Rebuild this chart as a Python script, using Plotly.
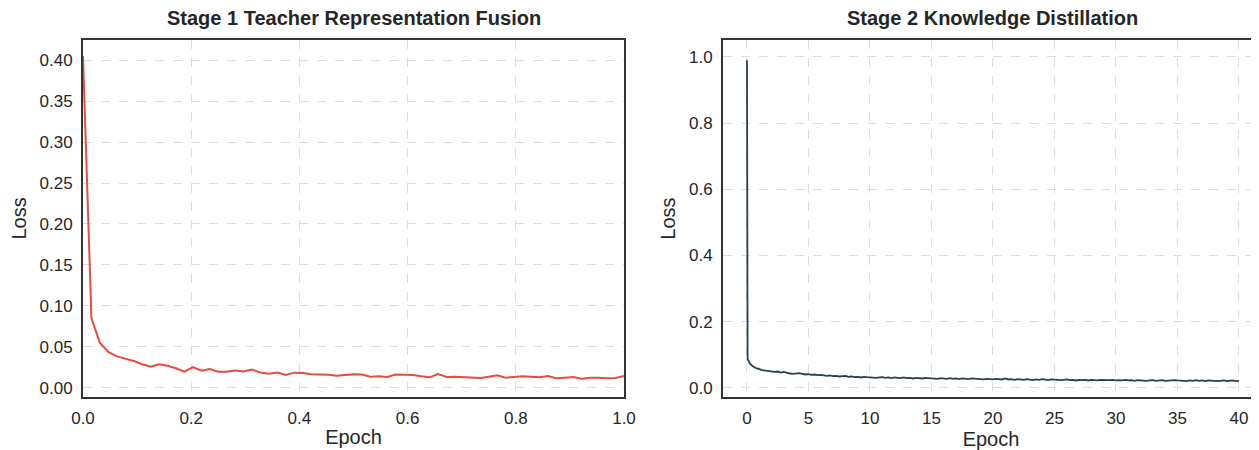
"""
Two-stage training loss curves (teacher fusion + knowledge distillation),
rebuilt with plotly and written to out.html.
"""

import numpy as np
import plotly.graph_objects as go

# stage 1: loss per step, steps spread evenly over one epoch
stage1_loss = [
    0.405, 0.085, 0.055, 0.044, 0.0385, 0.0356, 0.033, 0.029, 0.026, 0.029,
    0.027, 0.024, 0.020, 0.0255, 0.021, 0.023, 0.0198, 0.0198, 0.0214, 0.0202,
    0.0224, 0.0188, 0.0175, 0.0188, 0.016, 0.0187, 0.0184, 0.0168, 0.0167, 0.016,
    0.015, 0.016, 0.0168, 0.0165, 0.0138, 0.0142, 0.0134, 0.0163, 0.016, 0.0157,
    0.0142, 0.013, 0.0171, 0.0134, 0.0138, 0.0134, 0.0134, 0.0122, 0.0138, 0.0154,
    0.0126, 0.0138, 0.0142, 0.0138, 0.013, 0.0146, 0.0118, 0.0126, 0.0134, 0.0114,
    0.0126, 0.0126, 0.0118, 0.0122, 0.0146,
]
stage1_epoch = np.linspace(0, 1, len(stage1_loss))

# stage 2: first two steps, then one reading every quarter epoch up to 40
stage2_head_epoch = [0.0, 0.05]
stage2_head_loss = [0.99, 0.087]
stage2_loss = [
    # 0.25 .. 10
    0.073, 0.064, 0.059, 0.055, 0.053, 0.052, 0.050, 0.050, 0.048, 0.049,
    0.046, 0.048, 0.045, 0.043, 0.042, 0.043, 0.044, 0.042, 0.040, 0.041,
    0.039, 0.040, 0.038, 0.039, 0.037, 0.036, 0.037, 0.035, 0.036, 0.034,
    0.035, 0.036, 0.033, 0.034, 0.032, 0.033, 0.031, 0.033, 0.032, 0.031,
    # 10.25 .. 20
    0.032, 0.030, 0.031, 0.032, 0.030, 0.031, 0.029, 0.031, 0.030, 0.029,
    0.031, 0.029, 0.030, 0.028, 0.030, 0.029, 0.028, 0.030, 0.029, 0.028,
    0.029, 0.027, 0.029, 0.028, 0.027, 0.029, 0.027, 0.028, 0.026, 0.028,
    0.027, 0.026, 0.028, 0.027, 0.026, 0.027, 0.025, 0.027, 0.026, 0.025,
    # 20.25 .. 30
    0.027, 0.026, 0.025, 0.028, 0.025, 0.026, 0.024, 0.026, 0.025, 0.024,
    0.026, 0.025, 0.023, 0.025, 0.024, 0.026, 0.024, 0.023, 0.025, 0.024,
    0.025, 0.023, 0.024, 0.025, 0.023, 0.024, 0.022, 0.024, 0.023, 0.024,
    0.022, 0.024, 0.023, 0.022, 0.024, 0.023, 0.022, 0.023, 0.024, 0.022,
    # 30.25 .. 40
    0.023, 0.022, 0.024, 0.022, 0.023, 0.021, 0.023, 0.022, 0.023, 0.021,
    0.022, 0.023, 0.021, 0.022, 0.023, 0.021, 0.022, 0.021, 0.023, 0.022,
    0.021, 0.022, 0.020, 0.022, 0.021, 0.023, 0.021, 0.022, 0.020, 0.022,
    0.021, 0.022, 0.020, 0.021, 0.022, 0.020, 0.021, 0.022, 0.020, 0.021,
]
stage2_epoch = stage2_head_epoch + list(np.arange(1, len(stage2_loss) + 1) * 0.25)
stage2_loss = stage2_head_loss + stage2_loss

titles = ["Stage 1 Teacher Representation Fusion", "Stage 2 Knowledge Distillation"]

FONT = "Liberation Sans, Arial, sans-serif"
TEXT = "#262626"
GRID = "#dddddd"
EDGE = "#333333"

# the page body keeps its default 8px margin, so the figure is laid out
# in page pixels minus that offset
W, H, OFF = 1251, 442, 8


def px_x(p):
    return (p - OFF) / W


def px_y(p):
    return 1 - (p - OFF) / H


fig = go.Figure()
fig.add_trace(go.Scatter(x=stage1_epoch, y=stage1_loss, mode="lines",
                         line=dict(color="#e74c3c", width=2),
                         xaxis="x", yaxis="y", showlegend=False))
fig.add_trace(go.Scatter(x=stage2_epoch, y=stage2_loss, mode="lines",
                         line=dict(color="#2c3e50", width=1.8),
                         xaxis="x2", yaxis="y2", showlegend=False))

ydom = [px_y(397), px_y(40)]
common = dict(showgrid=True, gridcolor=GRID, gridwidth=1, griddash="dash",
              zeroline=False, showline=True, linecolor=EDGE, linewidth=2,
              automargin=False,
              ticks="outside", ticklen=5, tickcolor="rgba(0,0,0,0)",
              tickfont=dict(size=17, color=TEXT, family=FONT))
axis_title = dict(size=20, color=TEXT, family=FONT)

fig.update_layout(
    width=W, height=H,
    margin=dict(l=0, r=0, t=0, b=0, autoexpand=False),
    paper_bgcolor="white", plot_bgcolor="white",
    font=dict(family=FONT, color=TEXT),
    xaxis=dict(domain=[px_x(83), px_x(624)], range=[0, 1], dtick=0.2,
               tickformat=".1f", mirror=True, anchor="y",
               title=dict(text="Epoch", font=axis_title, standoff=3), **common),
    yaxis=dict(domain=ydom, range=[-0.011, 0.4244], dtick=0.05,
               tickformat=".2f", mirror=True, anchor="x",
               title=dict(text="Loss", font=axis_title, standoff=8), **common),
    xaxis2=dict(domain=[px_x(723), 1.0], range=[-1.95, 41.63], dtick=5,
                mirror=True, anchor="y2",
                title=dict(text="Epoch", font=axis_title, standoff=3), **common),
    yaxis2=dict(domain=ydom, range=[-0.028, 1.051], dtick=0.2,
                tickformat=".1f", anchor="x2",
                title=dict(text="Loss", font=axis_title, standoff=8), **common),
)

for text, xc in zip(titles, [px_x(353.5), px_x(993)]):
    fig.add_annotation(text="<b>%s</b>" % text, x=xc, y=px_y(17.5),
                       xref="paper", yref="paper", showarrow=False,
                       xanchor="center", yanchor="middle",
                       font=dict(size=20, color=TEXT, family=FONT))

fig.write_html("out.html")
